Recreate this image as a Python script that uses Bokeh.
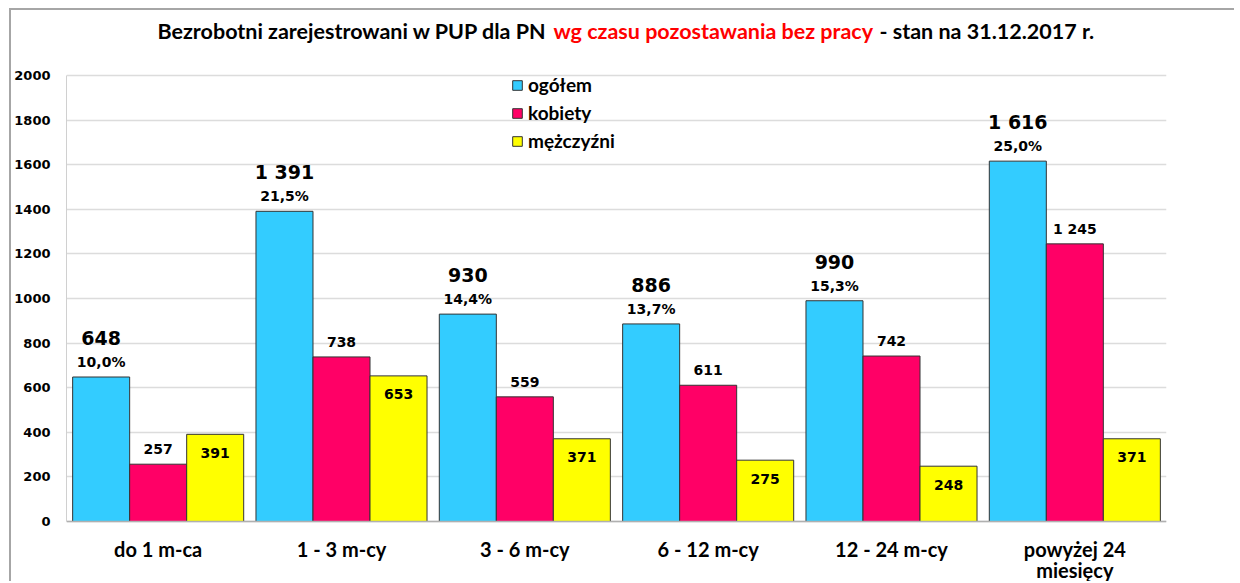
from bokeh.plotting import figure
from bokeh.models import (ColumnDataSource, Range1d, FixedTicker, Legend, LegendItem, Span)
from bokeh.transform import dodge
from bokeh.core.properties import value
from bokeh.embed import file_html
from bokeh.resources import INLINE

categories = ["do 1 m-ca", "1 - 3 m-cy", "3 - 6 m-cy", "6 - 12 m-cy", "12 - 24 m-cy", "powyżej 24\nmiesięcy"]
ogolem = [648, 1391, 930, 886, 990, 1616]
kobiety = [257, 738, 559, 611, 742, 1245]
mezczyzni = [391, 653, 371, 275, 248, 371]
series_names = ["ogółem", "kobiety", "mężczyźni"]
y_ticks = [0, 200, 400, 600, 800, 1000, 1200, 1400, 1600, 1800, 2000]
title_parts = ["Bezrobotni zarejestrowani w PUP dla PN", "wg czasu pozostawania bez pracy",
               "- stan na 31.12.2017 r."]
title_colors = ["#000000", "#FF0000", "#000000"]

BLUE, PINK, YELLOW = "#33CCFF", "#FF0066", "#FFFF00"
NUMF = "DejaVu Sans"
TXTF = "Lato"

def fmt(v):
    return f"{v:,}".replace(",", " ")

total_sum = sum(ogolem)
src = ColumnDataSource(dict(
    cat=categories,
    ogolem=ogolem, kobiety=kobiety, mezczyzni=mezczyzni,
    zero=[0] * len(categories),
    ogolem_txt=[fmt(v) for v in ogolem],
    pct_txt=[f"{v / total_sum * 100:.1f}%".replace(".", ",") for v in ogolem],
    kob_txt=[fmt(v) for v in kobiety],
    mez_txt=[fmt(v) for v in mezczyzni],
))

# y range extends beyond the data so that title and category labels lie inside the frame
p = figure(x_range=categories, y_range=Range1d(-278.0, 2291.5), width=1225, height=573,
           output_backend="svg", toolbar_location=None, x_axis_location=None,
           min_border_left=55, min_border_right=70, min_border_top=0, min_border_bottom=0)
p.outline_line_color = None
p.xgrid.visible = False
p.styles = {"border-top": "2px solid #a6a6a6", "border-left": "2px solid #a6a6a6",
            "margin-left": "9px", "margin-top": "8px"}

BW = 0.311
r1 = p.vbar(x=dodge("cat", -BW, range=p.x_range), top="ogolem", width=BW, source=src,
            fill_color=BLUE, line_color="#333333", line_width=1)
r2 = p.vbar(x=dodge("cat", 0, range=p.x_range), top="kobiety", width=BW, source=src,
            fill_color=PINK, line_color="#333333", line_width=1)
r3 = p.vbar(x=dodge("cat", BW, range=p.x_range), top="mezczyzni", width=BW, source=src,
            fill_color=YELLOW, line_color="#333333", line_width=1)

# value labels
p.text(x=dodge("cat", -BW, range=p.x_range), y="ogolem", text="ogolem_txt", source=src,
       text_font=value(NUMF), text_font_style="bold", text_font_size="19px",
       text_align="center", text_baseline="middle", y_offset=-39, text_color="#000000")
p.text(x=dodge("cat", -BW, range=p.x_range), y="ogolem", text="pct_txt", source=src,
       text_font=value(NUMF), text_font_style="bold", text_font_size="14px",
       text_align="center", text_baseline="middle", y_offset=-15, text_color="#000000")
p.text(x=dodge("cat", 0, range=p.x_range), y="kobiety", text="kob_txt", source=src,
       text_font=value(NUMF), text_font_style="bold", text_font_size="14px",
       text_align="center", text_baseline="middle", y_offset=-15, text_color="#000000")
p.text(x=dodge("cat", BW, range=p.x_range), y="mezczyzni", text="mez_txt", source=src,
       text_font=value(NUMF), text_font_style="bold", text_font_size="14px",
       text_align="center", text_baseline="middle", y_offset=18.5, text_color="#000000")

# category labels under the bars
p.text(x="cat", y="zero", text="cat", source=src,
       text_font=value(TXTF), text_font_style="bold", text_font_size="20px",
       text_align="center", text_baseline="top", y_offset=15, text_color="#000000",
       text_line_height=0.9)

# y axis
p.yaxis.ticker = FixedTicker(ticks=y_ticks)
p.yaxis.bounds = (0, 2000)
p.yaxis.major_tick_out = 0
p.yaxis.major_tick_in = 0
p.yaxis.minor_tick_out = 0
p.yaxis.minor_tick_in = 0
p.yaxis.axis_line_color = "#d0d0d0"
p.yaxis.major_label_text_font = NUMF
p.yaxis.major_label_text_font_style = "bold"
p.yaxis.major_label_text_font_size = "13px"
p.yaxis.major_label_text_color = "#000000"
p.yaxis.major_label_standoff = 16
p.ygrid.grid_line_color = "#dcdcdc"
p.ygrid.grid_line_width = 1.5

p.add_layout(Span(location=0, dimension="width", line_color="#b0b0b0", line_width=1.5))

# title, positioned from the frame's left edge
title_src = ColumnDataSource(dict(x=[0, 0, 0], y=[2000, 2000, 2000], text=title_parts,
                                  color=title_colors, xo=[91, 487, 813]))
p.text(x="x", y="y", text="text", source=title_src, text_color="color", x_offset="xo",
       y_offset=-45, text_font=value(TXTF), text_font_style="bold", text_font_size="21.5px",
       text_align="left", text_baseline="middle")

# legend
legend = Legend(items=[LegendItem(label=series_names[0], renderers=[r1]),
                       LegendItem(label=series_names[1], renderers=[r2]),
                       LegendItem(label=series_names[2], renderers=[r3])],
                location=(445, 431), orientation="vertical",
                border_line_color=None, background_fill_alpha=0,
                glyph_width=12, glyph_height=12, label_height=20, spacing=5,
                label_standoff=5, padding=0, margin=0,
                label_text_font=TXTF, label_text_font_style="bold",
                label_text_font_size="19px", label_text_color="#000000")
p.add_layout(legend)

open("out.html", "w").write(file_html(p, INLINE))
